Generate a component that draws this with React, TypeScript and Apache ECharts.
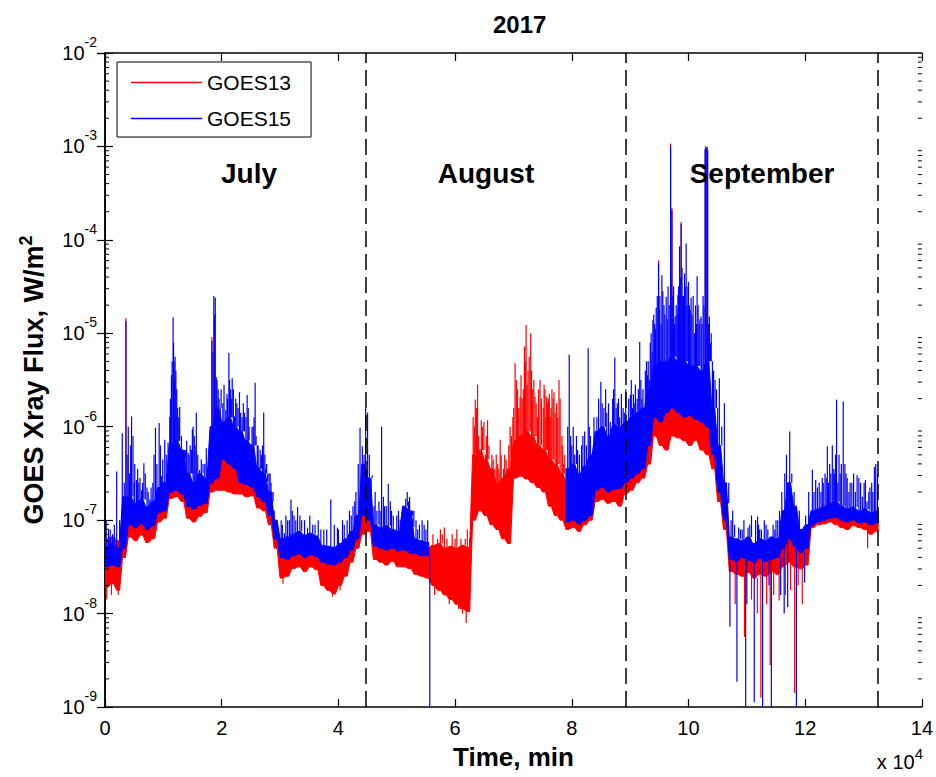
import React, { useEffect, useRef } from "react";
import * as echarts from "echarts";

// ---- data (log10 of flux, W/m^2) ----
// envelopes sampled every STEP minutes, index k -> k*STEP minutes
const STEP = 1000;
const seriesNames = ["GOES13", "GOES15"];
const monthBoundaries = [44640, 89280, 132480];
const monthLabels = ["July", "August", "September"];
const xTickStep = 20000;

// GOES15 (blue) upper envelope
const blueHi: (number | null)[] = [
  -7.28, -7.25, -7.3, -6.75, -6.75, -6.82, -6.78, -6.86, -6.8, -6.65,
  -6.6, -6.2, -6.15, -6.25, -6.5, -6.6, -6.5, -6.55, -6.0, -5.8,
  -5.95, -5.9, -6.0, -6.05, -6.15, -6.2, -6.45, -6.5, -6.7, -7.0,
  -7.2, -7.18, -7.15, -7.12, -7.16, -7.14, -7.17, -7.27, -7.28, -7.29,
  -7.25, -7.2, -7.12, -6.95, -6.4, -6.55, -7.05, -7.08, -7.06, -7.1,
  -7.12, -6.85, -6.9, -7.2, -7.22, -7.24, null, null, null, null,
  null, null, null, null, null, null, null, null, null, null,
  null, null, null, null, null, null, null, null, null, -6.45,
  -6.4, -6.5, -6.42, -6.3, -6.05, -6.0, -6.1, -5.98, -6.0, -5.95,
  -5.9, -5.85, -5.8, -5.6, -5.35, -5.3, -5.3, -5.25, -5.3, -5.3,
  -5.35, -5.35, -5.4, -5.3, -5.8, -6.2, -6.6, -7.18, -7.2, -7.22,
  -7.18, -7.25, -7.2, -7.22, -7.18, -7.2, -6.9, -6.6, -6.85, -7.1,
  -7.05, -6.9, -6.88, -6.85, -6.82, -6.8, -6.85, -6.88, -6.86, -6.9,
  -6.88, -6.92, -6.9,
];
// GOES15 (blue) lower envelope
const blueLo: (number | null)[] = [
  -7.5, -7.48, -7.5, -7.3, -7.05, -7.08, -7.04, -7.1, -7.06, -6.92,
  -6.9, -6.7, -6.68, -6.72, -6.85, -6.88, -6.84, -6.82, -6.6, -6.55,
  -6.35, -6.4, -6.45, -6.6, -6.62, -6.65, -6.75, -6.8, -6.95, -7.2,
  -7.4, -7.42, -7.38, -7.36, -7.4, -7.37, -7.39, -7.45, -7.47, -7.48,
  -7.45, -7.4, -7.32, -7.2, -6.95, -7.0, -7.28, -7.3, -7.32, -7.3,
  -7.33, -7.32, -7.35, -7.36, -7.38, -7.38, null, null, null, null,
  null, null, null, null, null, null, null, null, null, null,
  null, null, null, null, null, null, null, null, null, -7.02,
  -7.0, -7.04, -7.0, -6.95, -6.68, -6.65, -6.7, -6.67, -6.66, -6.6,
  -6.55, -6.5, -6.45, -6.2, -5.9, -5.95, -5.85, -5.8, -5.85, -5.9,
  -5.88, -5.92, -5.95, -6.0, -6.3, -6.7, -7.0, -7.42, -7.44, -7.4,
  -7.43, -7.45, -7.41, -7.44, -7.42, -7.4, -7.3, -7.2, -7.28, -7.35,
  -7.3, -7.05, -7.02, -7.0, -6.98, -6.97, -7.0, -7.02, -7.0, -7.03,
  -7.02, -7.05, -7.03,
];
// GOES13 (red) lower envelope
const redLo: number[] = [
  -7.72, -7.68, -7.75, -7.4, -7.18, -7.22, -7.16, -7.24, -7.2, -7.02,
  -6.98, -6.77, -6.75, -6.8, -6.98, -7.02, -6.96, -6.92, -6.7, -6.68,
  -6.68, -6.7, -6.72, -6.72, -6.75, -6.74, -6.87, -6.9, -7.05, -7.3,
  -7.62, -7.6, -7.52, -7.5, -7.55, -7.5, -7.53, -7.7, -7.75, -7.79,
  -7.7, -7.6, -7.45, -7.3, -7.15, -7.12, -7.42, -7.45, -7.48, -7.44,
  -7.5, -7.5, -7.52, -7.58, -7.6, -7.62, -7.7, -7.75, -7.8, -7.85,
  -7.9, -7.95, -7.98, -7.0, -6.9, -6.95, -7.05, -7.1, -7.2, -7.25,
  -6.55, -6.53, -6.56, -6.6, -6.65, -6.7, -6.85, -6.95, -7.0, -7.1,
  -7.08, -7.12, -7.05, -7.0, -6.8, -6.78, -6.82, -6.8, -6.85, -6.72,
  -6.68, -6.6, -6.55, -6.4, -6.1, -6.2, -6.25, -6.1, -6.12, -6.15,
  -6.2, -6.15, -6.25, -6.3, -6.45, -6.8, -7.1, -7.55, -7.58, -7.6,
  -7.56, -7.62, -7.58, -7.6, -7.55, -7.58, -7.5, -7.45, -7.5, -7.52,
  -7.48, -7.08, -7.05, -7.04, -7.02, -7.05, -7.08, -7.1, -7.06, -7.08,
  -7.1, -7.15, -7.12,
];
// GOES13 (red) upper envelope
const redHi: number[] = [
  -7.2, -7.18, -7.22, -6.9, -6.9, -6.95, -6.92, -6.98, -6.95, -6.8,
  -6.75, -6.4, -6.35, -6.45, -6.65, -6.72, -6.65, -6.7, -6.3, -6.1,
  -6.15, -6.1, -6.2, -6.25, -6.3, -6.35, -6.6, -6.65, -6.85, -7.1,
  -7.3, -7.28, -7.25, -7.22, -7.26, -7.24, -7.27, -7.35, -7.36, -7.38,
  -7.34, -7.3, -7.22, -7.05, -6.7, -6.75, -7.15, -7.18, -7.16, -7.2,
  -7.22, -7.05, -7.1, -7.28, -7.3, -7.3, -7.27, -7.25, -7.3, -7.28,
  -7.3, -7.27, -7.29, -6.3, -6.25, -6.35, -6.45, -6.6, -6.55, -6.45,
  -6.15, -6.1, -6.05, -6.1, -6.2, -6.25, -6.35, -6.4, -6.5, -6.6,
  -6.55, -6.65, -6.58, -6.45, -6.2, -6.15, -6.25, -6.12, -6.15, -6.1,
  -6.05, -6.0, -5.95, -5.8, -5.6, -5.55, -5.55, -5.5, -5.55, -5.55,
  -5.6, -5.6, -5.65, -5.55, -6.0, -6.4, -6.75, -7.3, -7.32, -7.34,
  -7.3, -7.36, -7.32, -7.34, -7.3, -7.32, -7.05, -6.8, -7.0, -7.22,
  -7.18, -6.98, -6.96, -6.94, -6.92, -6.9, -6.94, -6.96, -6.95, -6.98,
  -6.96, -7.0, -6.98,
];

// individual spikes [minutes, log10 flux]
const blueSpikes: [number, number][] = [
  // July
  [200, -7.0], [600, -7.1], [900, -7.1], [1300, -7.15], [1600, -7.05], [2000, -6.48], [2500, -7.0],
  [2960, -6.07], [3300, -6.6], [3590, -4.87], [3800, -6.3], [3990, -6.0], [4200, -6.5], [4400, -6.2],
  [4550, -5.89], [4800, -6.1], [5000, -6.6], [5100, -6.4], [5400, -6.57], [5600, -6.45], [5800, -6.6],
  [6000, -6.55], [6260, -6.68], [6450, -6.6], [6660, -6.39], [6900, -6.5], [7200, -6.65], [7400, -6.7],
  [7680, -6.78], [7900, -6.65], [8200, -6.6], [8400, -6.3], [8650, -6.01], [8900, -6.4], [9280, -5.96],
  [9500, -6.2], [9700, -6.53], [9900, -6.35], [10240, -6.14], [10500, -6.3], [10810, -6.17],
  [11100, -5.9], [11200, -5.7], [11380, -5.45], [11500, -5.3], [11670, -4.83], [11750, -5.1],
  [11850, -5.3], [11950, -5.5], [12010, -5.25], [12150, -5.4], [12300, -5.6], [12450, -5.8],
  [12550, -5.9], [12700, -6.0], [12800, -5.79], [13100, -6.1], [13400, -6.28], [13600, -6.3],
  [13800, -6.35], [14000, -6.15], [14230, -6.28], [14400, -6.3], [14600, -6.2], [14800, -6.25],
  [14970, -6.03], [15100, -6.0], [15300, -6.1], [15450, -6.2], [15650, -5.85], [15900, -6.3],
  [16220, -6.46], [16500, -6.35], [16800, -6.4], [17100, -6.4], [17360, -6.23], [17600, -6.45],
  [17900, -6.57], [18100, -6.2], [18320, -5.08], [18500, -5.2], [18650, -4.6], [18780, -4.8],
  [18900, -4.62], [19070, -5.47], [19200, -5.5], [19400, -5.6], [19550, -5.7], [19750, -5.89],
  [19900, -5.6], [20200, -5.75], [20400, -5.55], [20700, -5.82], [20900, -5.65], [21000, -5.7],
  [21230, -5.21], [21350, -5.5], [21500, -5.6], [21650, -5.7], [21800, -5.48], [22000, -5.6],
  [22200, -5.89], [22400, -5.7], [22600, -5.75], [22800, -5.8], [23050, -5.63], [23250, -5.85],
  [23500, -5.9], [23700, -5.75], [23900, -5.85], [24150, -5.9], [24360, -5.66], [24550, -5.8],
  [24700, -6.0], [25000, -6.28], [25200, -6.0], [25400, -6.0], [25550, -5.9], [25730, -5.53],
  [25900, -6.1], [26100, -6.2], [26250, -6.2], [26400, -6.43], [26600, -6.25], [26800, -6.3],
  [27000, -6.2], [27200, -5.85], [27400, -6.3], [27550, -6.45], [27700, -6.4], [27880, -6.59],
  [28100, -6.5], [28300, -6.5], [28450, -6.6], [28600, -6.76], [28800, -6.8], [29000, -6.9],
  [29500, -7.21], [29800, -7.0], [30200, -7.0], [30400, -7.05], [30730, -7.14], [31000, -6.95],
  [31300, -7.0], [31600, -7.0], [31870, -6.78], [32100, -6.9], [32400, -6.95], [32700, -7.0],
  [33000, -6.86], [33400, -6.95], [33700, -7.0], [34200, -7.0], [34710, -7.08], [35100, -6.95],
  [35600, -7.05], [36000, -7.05], [36540, -7.0], [37000, -7.1], [37500, -7.1], [38000, -7.1],
  [38700, -6.78], [39300, -7.05], [39840, -7.08], [40000, -7.1], [40700, -7.0], [41000, -7.05],
  [41500, -7.0], [41900, -6.9], [42200, -6.95], [42500, -6.85], [42800, -6.8], [43000, -6.7],
  [43400, -6.4], [43710, -6.01], [44100, -6.21], [44400, -6.3],
  // August
  [44670, -5.8], [45000, -5.85], [45300, -6.3], [45600, -6.7], [45800, -6.52], [46100, -6.85],
  [46300, -6.7], [46600, -6.9], [46950, -6.8], [47150, -6.9], [47400, -6.0], [47700, -6.75],
  [47900, -6.85], [48200, -6.85], [48550, -6.61], [48900, -6.8], [49100, -6.9], [49400, -6.95],
  [49800, -7.1], [50000, -6.95], [50300, -6.9], [50600, -7.0], [50900, -6.95], [51200, -6.85],
  [51400, -6.9], [51550, -6.77], [51800, -6.7], [52000, -6.8], [52200, -6.75], [52500, -6.9],
  [52700, -6.95], [52930, -7.07], [53300, -7.0], [53600, -7.1], [53900, -7.05], [54350, -7.0],
  [54700, -7.05], [55000, -7.1], [55300, -7.0], [55660, -10],
  [79300, -6.0], [79560, -5.23], [79800, -6.1], [80000, -6.2], [80250, -6.0], [80500, -6.3],
  [80800, -6.1], [81000, -6.25], [81300, -6.3], [81660, -6.2], [81900, -6.1], [82200, -6.05],
  [82500, -6.2], [82810, -5.16], [83000, -6.0], [83200, -6.1], [83500, -6.3], [83800, -5.9],
  [84300, -5.9], [84600, -5.7], [84980, -5.52], [85200, -5.75], [85500, -5.8], [85800, -5.6],
  [86000, -5.85], [86300, -5.75], [86600, -5.95], [87000, -5.7], [87150, -5.6], [87370, -5.26],
  [87600, -5.8], [87800, -5.75], [88000, -5.7], [88200, -5.9], [88500, -5.65], [88800, -5.8],
  [89000, -5.85],
  // September
  [89250, -5.6], [89500, -5.95], [89750, -5.7], [90040, -5.66], [90200, -5.5], [90400, -5.8],
  [90550, -5.65], [90700, -5.75], [90900, -5.55], [91200, -5.7], [91400, -5.6], [91640, -5.09],
  [91850, -5.5], [92000, -5.7], [92200, -5.6], [92400, -5.8], [92600, -5.4], [92800, -5.3],
  [93000, -5.45], [93100, -5.3], [93300, -5.5], [93450, -5.1], [93600, -5.0], [93750, -5.2],
  [93900, -4.86], [94050, -4.8], [94200, -4.9], [94350, -4.95], [94470, -4.73], [94650, -4.6],
  [94870, -4.25], [95000, -4.75], [95100, -4.6], [95300, -4.9], [95440, -4.38], [95600, -4.55],
  [95800, -4.7], [95950, -4.8], [96180, -4.61], [96350, -4.85], [96500, -4.5], [96700, -4.7],
  [96930, -3.0], [97000, -4.4], [97160, -3.68], [97300, -4.6], [97450, -4.5], [97600, -4.9],
  [97720, -4.82], [97900, -4.7], [98050, -4.8], [98180, -4.59], [98300, -4.5], [98470, -4.07],
  [98600, -4.4], [98740, -3.83], [98900, -4.3], [99000, -4.6], [99150, -4.6], [99320, -4.36],
  [99450, -4.5], [99600, -4.04], [99750, -4.7], [99900, -4.5], [100000, -4.45], [100150, -4.7],
  [100300, -4.75], [100450, -4.62], [100600, -4.8], [100800, -4.6], [101000, -5.0], [101200, -4.7],
  [101350, -4.9], [101480, -4.39], [101650, -4.7], [101800, -4.9], [101950, -4.85], [102160, -4.82],
  [102300, -4.9], [102500, -4.6], [102650, -4.7], [102840, -3.03], [103000, -3.02], [103150, -3.01],
  [103300, -3.04], [103450, -4.9], [103580, -4.82], [103750, -5.1], [103900, -5.0], [104100, -5.3],
  [104300, -5.4], [104550, -5.5], [104800, -5.6], [105000, -5.8], [105290, -5.48], [105700, -6.0],
  [106150, -5.75], [106900, -6.82], [107100, -8.14], [107300, -7.0], [107570, -6.9], [107900, -7.05],
  [108300, -8.73], [108600, -7.08], [108900, -7.1], [109200, -7.1], [109500, -7.0], [109800, -9.5],
  [110000, -7.9], [110200, -7.08], [110500, -7.05], [110800, -6.95], [111270, -8.95], [111500, -7.0],
  [111840, -6.96], [112000, -7.05], [112200, -7.1], [112500, -7.1], [112700, -9.5], [113000, -7.0],
  [113300, -7.05], [113600, -7.1], [113800, -7.7], [114200, -9.5], [114500, -7.05], [114800, -7.1],
  [115000, -7.0], [115300, -7.0], [115600, -6.9], [115800, -7.8], [116000, -6.7], [116400, -8.0],
  [116500, -6.5], [116800, -6.3], [117000, -7.93], [117350, -6.05], [117700, -6.5], [118100, -6.7],
  [118500, -9.0], [119000, -6.9], [119900, -7.67], [120080, -6.95], [120600, -6.7], [121230, -6.46],
  [121500, -6.7], [121800, -6.57], [122100, -6.65], [122400, -6.6], [122700, -6.7], [122930, -6.55],
  [123100, -6.6], [123400, -6.5], [123600, -6.55], [123800, -6.21], [124000, -6.6], [124200, -6.4],
  [124400, -6.5], [124650, -6.2], [124900, -6.45], [125000, -6.5], [125200, -6.3], [125380, -5.71],
  [125600, -6.6], [125800, -6.3], [126000, -6.5], [126200, -6.4], [126520, -5.73], [126800, -6.4],
  [127000, -6.5], [127200, -6.55], [127500, -6.7], [127700, -6.6], [128000, -6.6], [128300, -6.5],
  [128600, -6.7], [128900, -6.52], [129200, -6.55], [129500, -6.6], [129800, -6.75], [130100, -6.6],
  [130330, -6.57], [130600, -6.8], [130900, -6.7], [131100, -6.65], [131400, -6.6], [131600, -6.7],
  [131870, -6.43], [132100, -6.4], [132400, -6.5],
];
const redSpikes: [number, number][] = [
  [300, -7.85], [1100, -7.8], [2280, -7.8], [3590, -4.84], [18320, -5.04],
  [30500, -7.68], [38980, -7.82], [40300, -7.75],
  [56200, -7.15], [56500, -7.8], [57000, -7.2], [57480, -7.1], [57800, -7.15], [58160, -7.08],
  [58600, -7.2], [59000, -7.9], [59500, -7.15], [60000, -7.2], [60300, -7.1], [60600, -7.95],
  [61000, -7.2], [61300, -8.0], [61750, -7.2], [61900, -8.1], [62100, -7.1], [62480, -7.2],
  [62700, -7.0], [63100, -5.9], [63300, -6.0], [63460, -5.71], [63650, -5.8], [63850, -5.55],
  [64050, -6.1], [64200, -6.4], [64490, -5.93], [64700, -6.0], [64940, -5.95], [65200, -6.3],
  [65350, -6.1], [65560, -5.93], [65800, -6.2], [66000, -6.5], [66300, -6.3], [66550, -6.35],
  [66800, -6.5], [67050, -6.3], [67300, -6.4], [67500, -6.45], [67730, -6.14], [67900, -6.3],
  [68100, -6.6], [68300, -6.45], [68500, -6.3], [68750, -6.35], [69000, -6.5], [69200, -6.2],
  [69430, -6.0], [69650, -6.1], [69900, -5.9], [70050, -5.8], [70280, -5.32], [70500, -5.5],
  [70700, -5.6], [70900, -5.8], [71140, -5.68], [71300, -5.45], [71500, -5.7], [71700, -5.6],
  [71880, -5.14], [72050, -5.3], [72170, -4.91], [72350, -5.55], [72500, -5.4], [72700, -5.25],
  [72960, -5.0], [73100, -5.4], [73300, -5.6], [73500, -5.5], [73700, -5.68], [73900, -5.75],
  [74100, -5.9], [74300, -5.6], [74560, -5.5], [74800, -5.7], [75100, -5.8], [75250, -5.55],
  [75400, -5.6], [75550, -5.9], [75690, -5.68], [75850, -5.75], [76000, -5.7], [76150, -5.65],
  [76300, -5.9], [76450, -5.8], [76600, -5.6], [76800, -5.7], [76950, -5.63], [77150, -5.85],
  [77400, -5.75], [77600, -5.9], [77810, -5.5], [78000, -5.7], [78300, -6.1], [78450, -6.2],
  [78600, -6.4], [78800, -6.3],
  [94870, -4.22], [96930, -2.97], [97160, -3.66], [98740, -3.81], [102900, -3.0], [103200, -3.0],
  [108000, -7.9], [109600, -8.25], [110800, -7.85], [111800, -8.0], [112400, -8.9], [113400, -7.9],
  [114000, -8.55], [114600, -7.8], [115540, -7.86], [116600, -7.8], [117500, -7.75], [118200, -8.85],
  [118800, -7.7], [119500, -7.9], [130700, -7.3],
];

const FONT = "'Liberation Sans', Arial, Helvetica, sans-serif";
const RED = "#ff0000";
const BLUE = "#0000ff";

type Run = { start: number; end: number };
function runsOf(lo: (number | null)[], hi: (number | null)[]): Run[] {
  const runs: Run[] = [];
  let s = -1;
  for (let i = 0; i <= lo.length; i++) {
    const ok = i < lo.length && lo[i] != null && hi[i] != null;
    if (ok && s < 0) s = i;
    if (!ok && s >= 0) {
      runs.push({ start: s, end: i - 1 });
      s = -1;
    }
  }
  return runs;
}

function bandSeries(name: string, color: string, lo: (number | null)[], hi: (number | null)[], z: number) {
  const runs = runsOf(lo, hi);
  return {
    name,
    type: "custom",
    xAxisIndex: 0,
    yAxisIndex: 0,
    silent: true,
    clip: true,
    z,
    itemStyle: { color },
    data: runs.map((r) => [r.start * STEP, Math.pow(10, lo[r.start] as number)]),
    encode: { x: 0, y: 1 },
    renderItem: (params: any, api: any) => {
      const r = runs[params.dataIndex];
      const pts: number[][] = [];
      for (let k = r.start; k <= r.end; k++) {
        pts.push(api.coord([k * STEP, Math.pow(10, hi[k] as number)]));
        pts.push(api.coord([k * STEP + STEP / 2, Math.pow(10, hi[k] as number)]));
      }
      for (let k = r.end; k >= r.start; k--) {
        pts.push(api.coord([k * STEP + STEP / 2, Math.pow(10, lo[k] as number)]));
        pts.push(api.coord([k * STEP, Math.pow(10, lo[k] as number)]));
      }
      return {
        type: "polygon",
        shape: { points: pts },
        style: { fill: color, stroke: color, lineWidth: 1 },
      };
    },
  };
}

function spikeSeries(name: string, color: string, lo: (number | null)[], hi: (number | null)[], spikes: [number, number][], z: number) {
  const items = spikes.map(([x, v]) => {
    let k = Math.min(lo.length - 1, Math.floor(x / STEP));
    while (k > 0 && (lo[k] == null || hi[k] == null)) k--;
    const l = lo[k] as number;
    const h = hi[k] as number;
    const base = v >= h ? h : v <= l ? l : h;
    return [x, Math.pow(10, v), Math.pow(10, base)];
  });
  return {
    name,
    type: "custom",
    xAxisIndex: 0,
    yAxisIndex: 0,
    silent: true,
    clip: true,
    z,
    itemStyle: { color },
    data: items,
    encode: { x: 0, y: [1, 2] },
    renderItem: (params: any, api: any) => {
      const a = api.coord([api.value(0), api.value(1)]);
      const b = api.coord([api.value(0), api.value(2)]);
      return {
        type: "line",
        shape: { x1: a[0], y1: a[1], x2: b[0], y2: b[1] },
        style: { stroke: color, lineWidth: 1.2 },
      };
    },
  };
}

const minorTickValues: number[] = [];
for (let n = -9; n < -2; n++) {
  for (let m = 2; m <= 9; m++) minorTickValues.push(m * Math.pow(10, n));
}

export default function App() {
  const ref = useRef<HTMLDivElement>(null);
  useEffect(() => {
    document.body.style.margin = "0";
    const chart = echarts.init(ref.current!, null, { renderer: "svg" });
    const axisLine = { show: true, lineStyle: { color: "#000", width: 1.5 } };
    const tick = { show: true, inside: true, length: 8, lineStyle: { color: "#000", width: 1.2 } };
    const option: any = {
      animation: false,
      backgroundColor: "#fff",
      textStyle: { fontFamily: FONT, color: "#000" },
      title: {
        text: "2017",
        left: 488,
        top: 7,
        textStyle: { fontSize: 24, fontWeight: "bold", color: "#000", fontFamily: FONT },
      },
      legend: {
        data: seriesNames,
        orient: "vertical",
        left: 117,
        top: 62,
        itemWidth: 71,
        itemHeight: 1.5,
        itemGap: 15,
        icon: "rect",
        selectedMode: false,
        backgroundColor: "#fff",
        borderColor: "#000",
        borderWidth: 1,
        padding: [10, 20, 8, 14],
        textStyle: { fontSize: 21, color: "#000", fontFamily: FONT },
      },
      grid: { left: 105, top: 53, right: 11, bottom: 70, containLabel: false },
      xAxis: [
        {
          type: "value",
          min: 0,
          max: 140000,
          interval: xTickStep,
          axisLine,
          axisTick: tick,
          axisLabel: {
            formatter: (v: number) => String(v / 1e4),
            fontSize: 20,
            color: "#000",
            margin: 11,
            fontFamily: FONT,
          },
          splitLine: { show: false },
          name: "Time, min",
          nameLocation: "middle",
          nameGap: 37,
          nameTextStyle: { fontSize: 26, fontWeight: "bold", color: "#000", fontFamily: FONT },
        },
        {
          type: "value",
          position: "top",
          min: 0,
          max: 140000,
          interval: xTickStep,
          axisLine,
          axisTick: tick,
          axisLabel: { show: false },
          splitLine: { show: false },
        },
      ],
      yAxis: [
        {
          type: "log",
          logBase: 10,
          min: 1e-9,
          max: 1e-2,
          interval: 1,
          axisLine,
          axisTick: tick,
          axisLabel: {
            formatter: (v: number) => "{b|10}{s|" + Math.round(Math.log10(v)) + "}",
            margin: 8,
            rich: {
              b: { fontSize: 20, color: "#000", fontFamily: FONT },
              s: { fontSize: 14, color: "#000", fontFamily: FONT, padding: [0, 0, 22, 0] },
            },
          },
          splitLine: { show: false },
          name: "GOES Xray Flux, W/m{s|2}",
          nameLocation: "middle",
          nameGap: 54,
          nameRotate: 90,
          nameTextStyle: {
            fontSize: 27,
            fontWeight: "bold",
            color: "#000",
            fontFamily: FONT,
            rich: {
              s: { fontSize: 18, fontWeight: "bold", color: "#000", fontFamily: FONT, padding: [0, 0, 16, 0] },
            },
          },
        },
        {
          type: "log",
          logBase: 10,
          position: "right",
          min: 1e-9,
          max: 1e-2,
          interval: 1,
          axisLine,
          axisTick: tick,
          axisLabel: { show: false },
          splitLine: { show: false },
        },
      ],
      series: [
        bandSeries(seriesNames[0], RED, redLo, redHi, 2),
        spikeSeries(seriesNames[0], RED, redLo, redHi, redSpikes, 2),
        bandSeries(seriesNames[1], BLUE, blueLo, blueHi, 3),
        {
          ...spikeSeries(seriesNames[1], BLUE, blueLo, blueHi, blueSpikes, 3),
          markLine: {
            silent: true,
            symbol: ["none", "none"],
            label: { show: false },
            lineStyle: { color: "#000", type: [16, 7], width: 1.5 },
            data: monthBoundaries.map((x) => ({ xAxis: x })),
            z: 10,
          },
        },
        {
          type: "custom",
          xAxisIndex: 0,
          yAxisIndex: 0,
          silent: true,
          clip: false,
          z: 5,
          data: minorTickValues.map((v) => [0, v]),
          encode: { x: 0, y: 1 },
          renderItem: (params: any, api: any) => {
            const v = api.value(1);
            const l = api.coord([0, v]);
            const r = api.coord([140000, v]);
            return {
              type: "group",
              children: [
                { type: "line", shape: { x1: l[0], y1: l[1], x2: l[0] + 4, y2: l[1] }, style: { stroke: "#000", lineWidth: 1 } },
                { type: "line", shape: { x1: r[0] - 4, y1: r[1], x2: r[0], y2: r[1] }, style: { stroke: "#000", lineWidth: 1 } },
              ],
            };
          },
        },
      ],
      graphic: [
        { type: "text", x: 249, y: 173, style: { text: monthLabels[0], font: `bold 28px ${FONT}`, fill: "#000", align: "center", verticalAlign: "middle" }, z: 20 },
        { type: "text", x: 486, y: 173, style: { text: monthLabels[1], font: `bold 28px ${FONT}`, fill: "#000", align: "center", verticalAlign: "middle" }, z: 20 },
        { type: "text", x: 762, y: 173, style: { text: monthLabels[2], font: `bold 28px ${FONT}`, fill: "#000", align: "center", verticalAlign: "middle" }, z: 20 },
        {
          type: "text",
          x: 923,
          y: 762,
          style: {
            text: "{b|x 10}{s|4}",
            align: "right",
            verticalAlign: "middle",
            rich: {
              b: { fontSize: 20, fill: "#000", fontFamily: FONT },
              s: { fontSize: 15, fill: "#000", fontFamily: FONT, padding: [0, 0, 18, 0] },
            },
          },
          z: 20,
        },
      ],
    };
    chart.setOption(option);
    return () => chart.dispose();
  }, []);
  return <div ref={ref} style={{ width: 936, height: 777, background: "#fff" }} />;
}
